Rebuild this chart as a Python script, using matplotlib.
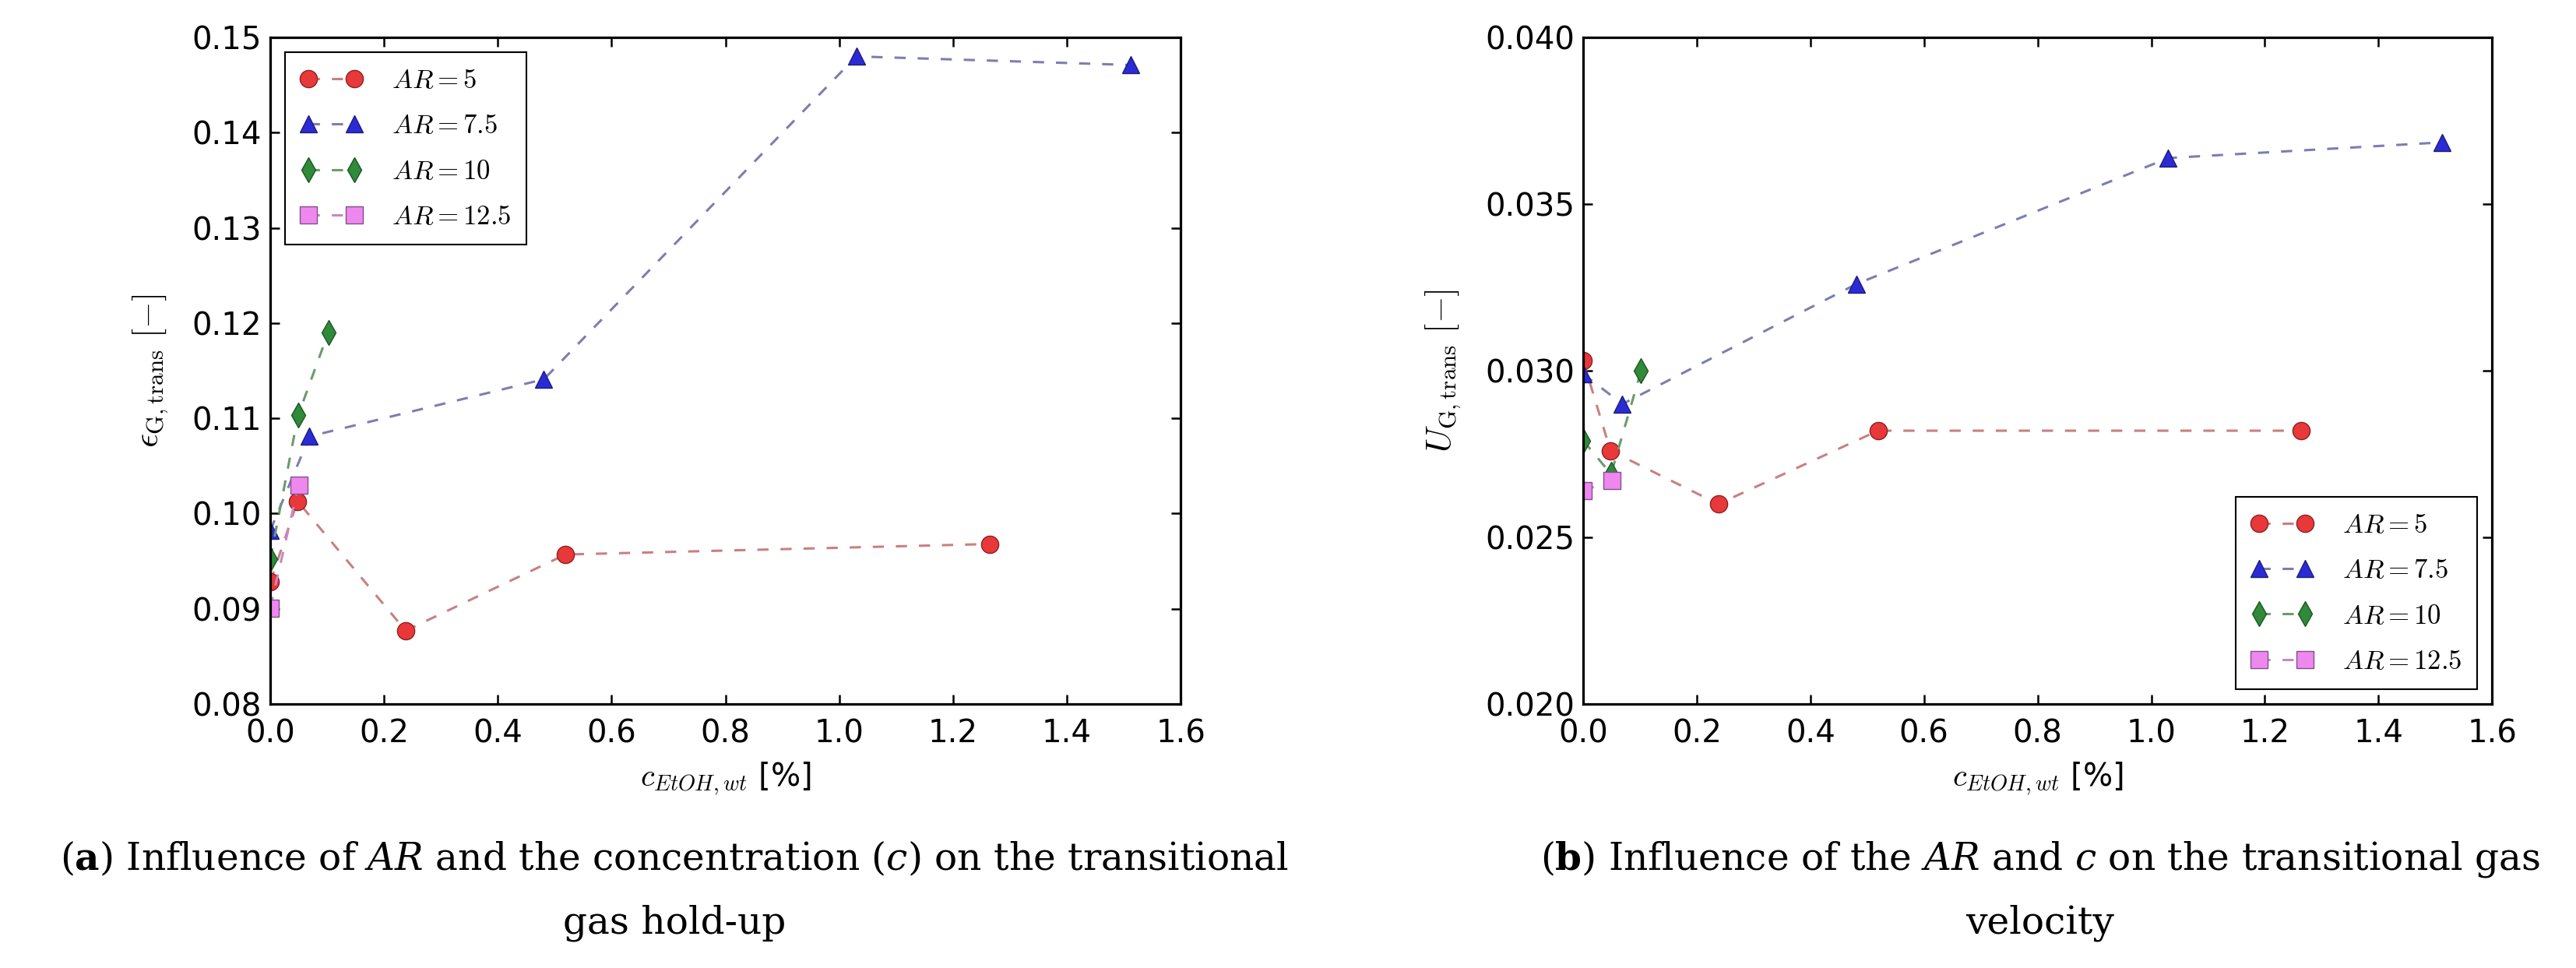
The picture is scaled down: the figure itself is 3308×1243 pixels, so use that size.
import numpy as np
import matplotlib
matplotlib.use('Agg')
import matplotlib.pyplot as plt

plt.rcParams['font.family'] = ['DejaVu Sans']
plt.rcParams['mathtext.fontset'] = 'cm'
# 图注用的自定义 mathtext 字体（粗体 a/b，斜体 AR、c）
plt.rcParams['mathtext.rm'] = 'DejaVu Serif'
plt.rcParams['mathtext.it'] = 'DejaVu Serif:italic'
plt.rcParams['mathtext.bf'] = 'DejaVu Serif:bold'

# ---------------- 数据 ----------------
# 乙醇浓度 c_EtOH,wt [%]
c_ar5 = [0.0, 0.048, 0.238, 0.519, 1.264]
c_ar75 = [0.0, 0.069, 0.481, 1.030, 1.512]
c_ar10 = [0.0, 0.049, 0.102]
c_ar125 = [0.0, 0.050]

# (a) 过渡气含率 eps_G,trans
eps_ar5 = [0.0928, 0.1013, 0.0877, 0.0957, 0.0968]
eps_ar75 = [0.0982, 0.1081, 0.1141, 0.1480, 0.1471]
eps_ar10 = [0.0952, 0.1103, 0.1190]
eps_ar125 = [0.0901, 0.1030]

# (b) 过渡气速 U_G,trans
u_ar5 = [0.0303, 0.0276, 0.0260, 0.0282, 0.0282]
u_ar75 = [0.0299, 0.0290, 0.0326, 0.03638, 0.03685]
u_ar10 = [0.0279, 0.0269, 0.0300]
u_ar125 = [0.0264, 0.0267]

labels = [r'$AR = 5$', r'$AR = 7.5$', r'$AR = 10$', r'$AR = 12.5$']
markers = ['o', '^', 'd', 's']
face_colors = ['#e8383a', '#2b2bd6', '#2f8a3a', '#ee88ee']
edge_colors = ['#8e2020', '#1c1c7a', '#1d5524', '#80508a']
line_colors = ['#c98080', '#7d7db2', '#6c9a6c', '#c48ac4']

caption_a = [r'($\mathbf{a}$) Influence of $\mathit{AR}$ and the concentration ($\mathit{c}$) on the transitional',
             'gas hold-up']
caption_b = [r'($\mathbf{b}$) Influence of the $\mathit{AR}$ and $\mathit{c}$ on the transitional gas',
             'velocity']

# ---------------- 画图 ----------------
fig = plt.figure(figsize=(33.08, 12.43), dpi=100)
ax_a = fig.add_axes([0.1049, 0.2727, 0.3534, 0.6887])
ax_b = fig.add_axes([0.6146, 0.2727, 0.3528, 0.6887])


def draw_panel(ax, xs, ys, ylim, yticks, yfmt, ylabel, legend_loc):
    for x, y, lab, m, fc, ec, lc in zip(xs, ys, labels, markers,
                                        face_colors, edge_colors, line_colors):
        ax.plot(x, y, color=lc, linestyle=(0, (4.7, 5.0)), linewidth=2.2,
                marker=m, markersize=16, markerfacecolor=fc,
                markeredgecolor=ec, markeredgewidth=1.0, label=lab)
    ax.set_xlim(0, 1.6)
    ax.set_ylim(*ylim)
    ax.set_xticks(np.arange(0, 1.61, 0.2))
    ax.set_yticks(yticks)
    ax.xaxis.set_major_formatter(matplotlib.ticker.FormatStrFormatter('%.1f'))
    ax.yaxis.set_major_formatter(matplotlib.ticker.FormatStrFormatter(yfmt))
    ax.tick_params(direction='in', top=True, right=True, length=8.6,
                   width=1.8, labelsize=29, colors='black')
    ax.tick_params(axis='x', pad=13)
    ax.tick_params(axis='y', pad=8)
    for sp in ax.spines.values():
        sp.set_linewidth(2.3)
    ax.set_xlabel(r'$c_{EtOH,wt}$ [%]', fontsize=29, labelpad=10)
    ax.set_ylabel(ylabel, fontsize=32, labelpad=20)
    leg = ax.legend(loc=legend_loc, numpoints=2, fontsize=25,
                    fancybox=False, framealpha=1, edgecolor='black',
                    borderpad=0.55, labelspacing=0.7, handlelength=2.3,
                    handletextpad=1.1, borderaxespad=0.55)
    leg.get_frame().set_linewidth(1.5)


draw_panel(ax_a, [c_ar5, c_ar75, c_ar10, c_ar125],
           [eps_ar5, eps_ar75, eps_ar10, eps_ar125],
           (0.08, 0.15), np.arange(0.08, 0.1501, 0.01), '%.2f',
           r'$\epsilon_{\mathrm{G,trans}}\ [-]$', 'upper left')
draw_panel(ax_b, [c_ar5, c_ar75, c_ar10, c_ar125],
           [u_ar5, u_ar75, u_ar10, u_ar125],
           (0.020, 0.040), np.arange(0.020, 0.04001, 0.005), '%.3f',
           r'$U_{\mathrm{G,trans}}\ [-]$', 'lower right')

# 图注
for cx, lines in [(0.2618, caption_a), (0.792, caption_b)]:
    for ypos, line in zip([0.1014, 0.0362], lines):
        fig.text(cx, ypos, line, ha='center', va='baseline', fontsize=35,
                 family='DejaVu Serif', math_fontfamily='custom')

fig.savefig('out.png', dpi=100)
